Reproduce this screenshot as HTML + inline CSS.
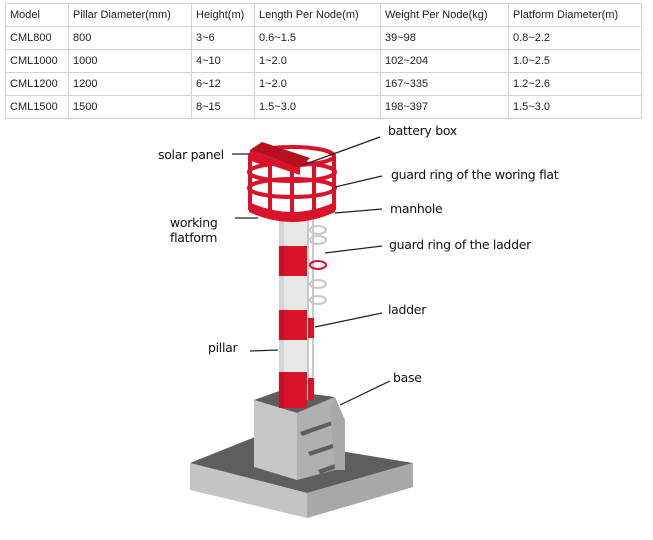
<!DOCTYPE html>
<html><head><style>
body{margin:0;width:653px;height:540px;background:#fff;position:relative;overflow:hidden;font-family:"Liberation Sans",Arial,sans-serif}
table{position:absolute;left:5px;top:3px;border-collapse:collapse;font-size:11px;color:#222;table-layout:fixed;width:636px}
td{border:1px solid #d4d4d4;height:22px;padding:0 0 0 4px;white-space:nowrap;overflow:hidden}
.l{position:absolute;font-family:"DejaVu Sans",sans-serif;font-size:12.5px;color:#111;letter-spacing:-0.3px;line-height:15px}
</style></head><body>
<table>
<colgroup><col style="width:63px"><col style="width:123px"><col style="width:63px"><col style="width:126px"><col style="width:128px"><col style="width:133px"></colgroup>
<tr><td>Model</td><td>Pillar Diameter(mm)</td><td>Height(m)</td><td>Length Per Node(m)</td><td>Weight Per Node(kg)</td><td>Platform Diameter(m)</td></tr>
<tr><td>CML800</td><td>800</td><td>3~6</td><td>0.6~1.5</td><td>39~98</td><td>0.8~2.2</td></tr>
<tr><td>CML1000</td><td>1000</td><td>4~10</td><td>1~2.0</td><td>102~204</td><td>1.0~2.5</td></tr>
<tr><td>CML1200</td><td>1200</td><td>6~12</td><td>1~2.0</td><td>167~335</td><td>1.2~2.6</td></tr>
<tr><td>CML1500</td><td>1500</td><td>8~15</td><td>1.5~3.0</td><td>198~397</td><td>1.5~3.0</td></tr>
</table>
<svg width="653" height="540" style="position:absolute;left:0;top:0">
<polygon points="190,463 255,437 413,463 307,493" fill="#5e5e5e"/>
<polygon points="190,463 307,493 307,518 190,490" fill="#c4c4c4"/>
<polygon points="307,493 413,463 413,487 307,518" fill="#a8a8a8"/>
<polygon points="254,400 282,390 335,397 297,413" fill="#5e5e5e"/>
<polygon points="254,400 297,413 297,480 254,467" fill="#c6c6c6"/>
<polygon points="297,413 335,397 335,470 297,480" fill="#b0b0b0"/>
<polygon points="300,432 335,420 335,424 302,436" fill="#5e5e5e"/>
<polygon points="308,452 345,440 345,444 310,456" fill="#5e5e5e"/>
<polygon points="318,470 360,455 360,460 320,474" fill="#5e5e5e"/>
<polygon points="330,410 335,397 345,420 345,470 335,470" fill="#a8a8a8"/>
<rect x="279" y="218" width="28" height="190" fill="#e8e8e8"/>
<rect x="279" y="246" width="28" height="30" fill="#d9132a"/>
<rect x="279" y="310" width="28" height="30" fill="#d9132a"/>
<rect x="279" y="372" width="28" height="36" fill="#d9132a"/>
<rect x="279" y="218" width="5" height="190" fill="#000" opacity=".08"/>
<g stroke="#c8c8c8" stroke-width="2" fill="none">
<line x1="308" y1="220" x2="308" y2="400"/><line x1="313" y1="220" x2="313" y2="400"/>
<ellipse cx="318" cy="230" rx="8" ry="4"/><ellipse cx="318" cy="265" rx="8" ry="4" stroke="#d9132a"/><ellipse cx="318" cy="284" rx="8" ry="4"/><ellipse cx="318" cy="300" rx="8" ry="4"/><ellipse cx="318" cy="240" rx="8" ry="4"/>
</g>
<rect x="308" y="318" width="6" height="20" fill="#d9132a"/><rect x="308" y="378" width="6" height="22" fill="#d9132a"/>
<g fill="none" stroke="#d9132a" stroke-width="4">
<ellipse cx="292" cy="156" rx="42" ry="9"/>
<ellipse cx="292" cy="172" rx="43" ry="9"/>
<ellipse cx="292" cy="188" rx="43" ry="9"/>
<line x1="250" y1="156" x2="250" y2="210"/><line x1="334" y1="156" x2="334" y2="210"/>
<line x1="270" y1="163" x2="270" y2="215"/><line x1="292" y1="165" x2="292" y2="217"/><line x1="314" y1="163" x2="314" y2="215"/>
</g>
<path d="M249,202 Q292,222 335,202 L335,212 Q292,232 249,212Z" fill="#d9132a"/>
<polygon points="250,150 262,142 310,158 300,168" fill="#b5101f"/>
<polygon points="250,150 300,168 300,175 250,158" fill="#d9132a"/>
<g stroke="#222" stroke-width="1.2">
<line x1="232" y1="154" x2="250" y2="154"/>
<line x1="380" y1="137" x2="303" y2="165"/>
<line x1="382" y1="176" x2="335" y2="187"/>
<line x1="382" y1="209" x2="335" y2="213"/>
<line x1="235" y1="218" x2="258" y2="218"/>
<line x1="382" y1="246" x2="325" y2="253"/>
<line x1="382" y1="313" x2="315" y2="327"/>
<line x1="250" y1="351" x2="278" y2="350"/>
<line x1="390" y1="381" x2="340" y2="405"/>
</g>
</svg>
<div class="l" style="left:158px;top:147px">solar panel</div>
<div class="l" style="left:388px;top:123px">battery box</div>
<div class="l" style="left:391px;top:167px">guard ring of the woring flat</div>
<div class="l" style="left:390px;top:201px">manhole</div>
<div class="l" style="left:170px;top:215px">working<br>flatform</div>
<div class="l" style="left:389px;top:237px">guard ring of the ladder</div>
<div class="l" style="left:388px;top:302px">ladder</div>
<div class="l" style="left:208px;top:340px">pillar</div>
<div class="l" style="left:393px;top:370px">base</div>
</body></html>
